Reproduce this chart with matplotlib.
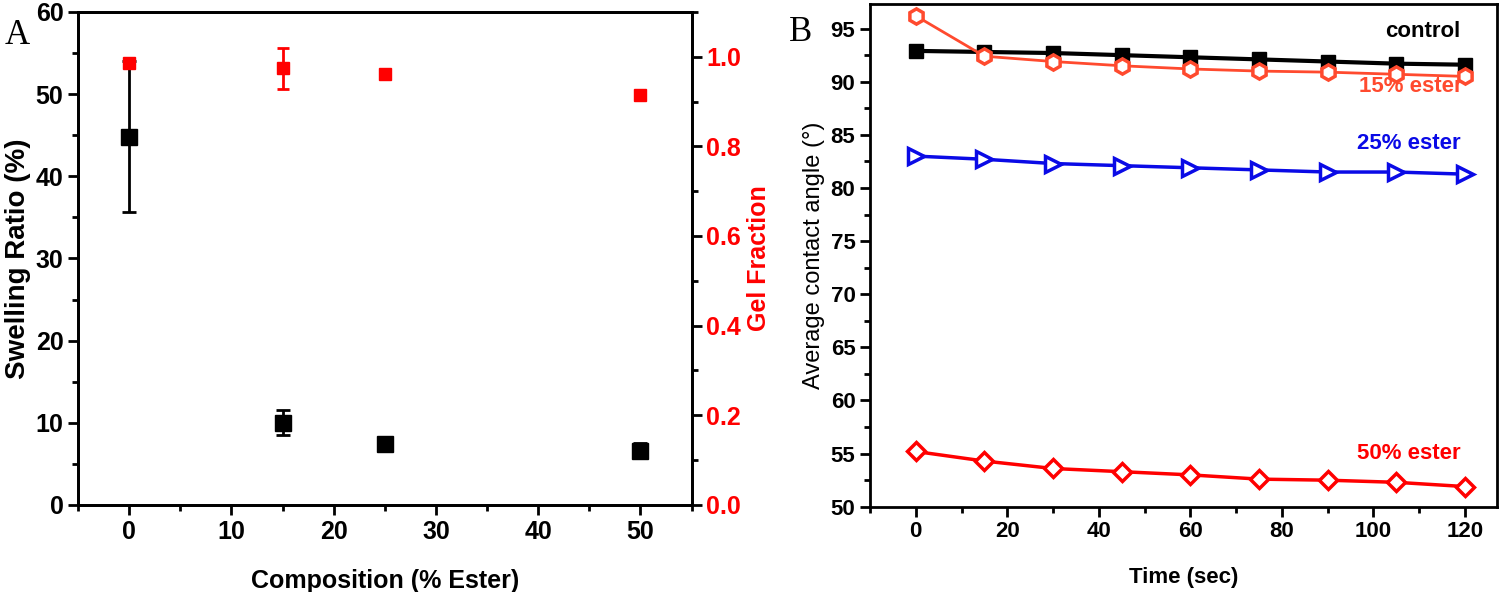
import matplotlib
matplotlib.use("Agg")
import matplotlib.pyplot as plt
from matplotlib.ticker import MultipleLocator

plt.rcParams['font.family'] = ['Liberation Sans', 'DejaVu Sans']

# Panel A data
composition = [0, 15, 25, 50]
swelling = [44.8, 10.0, 7.4, 6.6]
swelling_err = [9.2, 1.5, 0.8, 0.9]
gel_fraction = [0.985, 0.974, 0.962, 0.914]
gel_err = [0.004, 0.046, 0.006, 0.006]

# Panel B data
time_sec = [0, 15, 30, 45, 60, 75, 90, 105, 120]
control = [92.9, 92.8, 92.7, 92.5, 92.3, 92.1, 91.9, 91.7, 91.6]
ester15 = [96.2, 92.4, 91.9, 91.5, 91.2, 91.0, 90.9, 90.7, 90.5]
ester25 = [83.0, 82.7, 82.3, 82.1, 81.9, 81.7, 81.5, 81.5, 81.3]
ester50 = [55.2, 54.3, 53.6, 53.3, 53.0, 52.6, 52.5, 52.3, 51.9]

salmon = '#ff4a2e'
blue = '#0a0ae6'

def style_axis(ax, size):
    ax.tick_params(which='both', direction='out', width=2, labelsize=size)
    ax.tick_params(which='major', length=7)
    ax.tick_params(which='minor', length=4)
    for lab in ax.get_xticklabels() + ax.get_yticklabels():
        lab.set_fontweight('bold')
    for sp in ax.spines.values():
        sp.set_linewidth(2)

fig = plt.figure(figsize=(15, 5.92), dpi=100)

# ---------------- Panel A ----------------
axA = fig.add_axes([0.052, 0.147, 0.409, 0.833])
axA.errorbar(composition, swelling, yerr=swelling_err, fmt='s', color='black',
             ms=12, elinewidth=2, capsize=5, capthick=2, zorder=3)
axA.set_xlim(-5, 55)
axA.set_ylim(0, 60)
axA.xaxis.set_major_locator(MultipleLocator(10))
axA.xaxis.set_minor_locator(MultipleLocator(5))
axA.yaxis.set_major_locator(MultipleLocator(10))
axA.yaxis.set_minor_locator(MultipleLocator(5))
axA.set_xlabel('Composition (% Ester)', fontsize=18, fontweight='bold', labelpad=18)
axA.set_ylabel('Swelling Ratio (%)', fontsize=20, fontweight='bold', labelpad=3)
style_axis(axA, 18)

axA2 = axA.twinx()
axA2.errorbar(composition, gel_fraction, yerr=gel_err, fmt='s', color='red',
              ms=9, elinewidth=2, capsize=4, capthick=2, zorder=3)
axA2.set_ylim(0, 1.1)
axA2.yaxis.set_major_locator(MultipleLocator(0.2))
axA2.yaxis.set_minor_locator(MultipleLocator(0.1))
axA2.set_ylabel('Gel Fraction', fontsize=18, fontweight='bold', color='red', labelpad=4)
style_axis(axA2, 18)
axA2.tick_params(labelcolor='red')
fig.text(0.003, 0.925, 'A', fontsize=25, family='Liberation Serif')

# ---------------- Panel B ----------------
axB = fig.add_axes([0.58, 0.144, 0.418, 0.849])
axB.plot(time_sec, control, '-s', color='black', lw=3, ms=10, zorder=3)
axB.plot(time_sec, ester15, '-h', color=salmon, lw=2, ms=11, mfc='white', mew=2.5, zorder=4)
axB.plot(time_sec, ester25, '->', color=blue, lw=2.5, ms=11, mfc='white', mew=2.5, zorder=3)
axB.plot(time_sec, ester50, '-D', color='red', lw=2.5, ms=9, mfc='white', mew=2.5, zorder=3)
axB.set_xlim(-10, 127)
axB.set_ylim(50, 97.3)
axB.xaxis.set_major_locator(MultipleLocator(20))
axB.xaxis.set_minor_locator(MultipleLocator(10))
axB.yaxis.set_major_locator(MultipleLocator(5))
axB.yaxis.set_minor_locator(MultipleLocator(2.5))
axB.set_xlabel('Time (sec)', fontsize=16, fontweight='bold', labelpad=18)
axB.set_ylabel('Average contact angle (\u00b0)', fontsize=17, labelpad=4)
style_axis(axB, 16)

axB.text(119, 94.2, 'control', fontsize=16, fontweight='bold', color='black', ha='right')
axB.text(119.5, 89.0, '15% ester', fontsize=16, fontweight='bold', color=salmon, ha='right')
axB.text(119, 83.7, '25% ester', fontsize=16, fontweight='bold', color=blue, ha='right')
axB.text(119, 54.5, '50% ester', fontsize=16, fontweight='bold', color='red', ha='right')
fig.text(0.526, 0.93, 'B', fontsize=25, family='Liberation Serif')

fig.savefig('out.png', dpi=100)
